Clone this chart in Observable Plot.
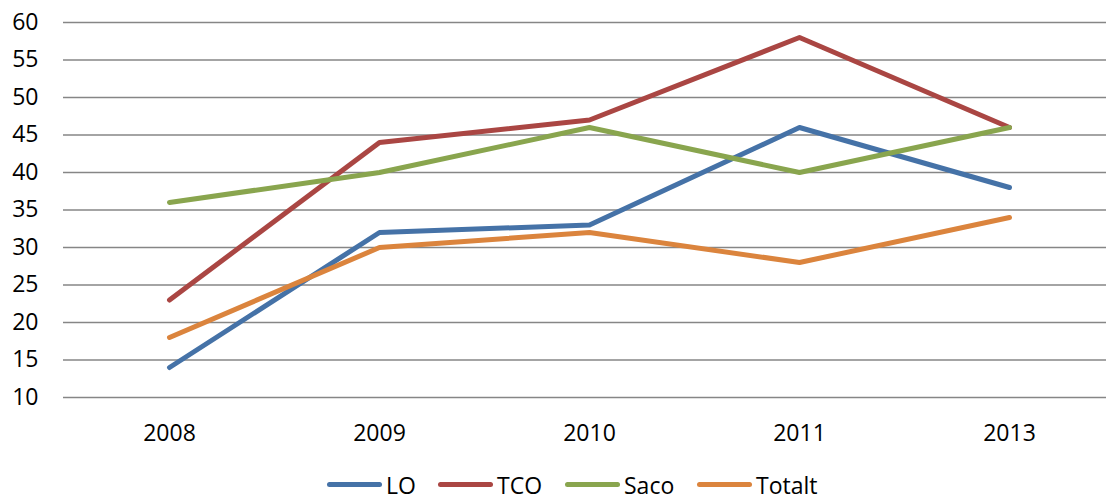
<!DOCTYPE html>
<html>
<head>
<meta charset="utf-8">
<script src="https://cdn.jsdelivr.net/npm/d3@7"></script>
<script src="https://cdn.jsdelivr.net/npm/@observablehq/plot@0.6"></script>
<style>
  html, body { margin: 0; padding: 0; background: #fff; }
  body { width: 1106px; height: 501px; overflow: hidden; font-family: "Open Sans", sans-serif; }
  #legend { position: relative; height: 41px; }
  .item { position: absolute; top: 8px; height: 33px; display: flex; align-items: center; font-size: 23px; color: #000; }
  .sw { width: 55px; height: 5px; border-radius: 3px; margin-right: 4px; }
</style>
</head>
<body>
<div id="chart"></div>
<div id="legend"></div>
<script>
const years = ["2008", "2009", "2010", "2011", "2013"];
const seriesNames = ["LO", "TCO", "Saco", "Totalt"];
const LO = [14, 32, 33, 46, 38];
const TCO = [23, 44, 47, 58, 46];
const Saco = [36, 40, 46, 40, 46];
const Totalt = [18, 30, 32, 28, 34];
const colors = ["#4572A7", "#AA4643", "#89A54E", "#DB843D"];
const yTicks = [10, 15, 20, 25, 30, 35, 40, 45, 50, 55, 60];

const seriesValues = [LO, TCO, Saco, Totalt];
const data = [];
seriesNames.forEach((name, i) => {
  years.forEach((yr, j) => data.push({series: name, year: yr, value: seriesValues[i][j]}));
});

const chart = Plot.plot({
  width: 1106,
  height: 460,
  marginTop: 22,
  marginBottom: 63,
  marginLeft: 63,
  marginRight: 0,
  style: {fontFamily: "Open Sans, sans-serif", fontSize: "23px", color: "#000", background: "#fff"},
  x: {type: "point", domain: years, range: [168, 1010], padding: 0, label: null},
  y: {domain: [10, 60], label: null},
  color: {domain: seriesNames, range: colors},
  marks: [
    Plot.ruleY(yTicks, {stroke: "#868686", strokeWidth: 1.6, strokeOpacity: 1}),
    Plot.axisY({ticks: yTicks, tickSize: 0, tickPadding: 25, label: null, fontSize: 23}),
    Plot.axisX({tickSize: 0, tickPadding: 27, label: null, fontSize: 23}),
    Plot.line(data, {x: "year", y: "value", z: "series", stroke: "series", strokeWidth: 5, strokeLinecap: "round", strokeLinejoin: "round"})
  ]
});
document.getElementById("chart").appendChild(chart);

const legend = document.getElementById("legend");
const lefts = [327, 438, 565, 697];
seriesNames.forEach((name, i) => {
  const item = document.createElement("div");
  item.className = "item";
  item.style.left = lefts[i] + "px";
  const sw = document.createElement("span");
  sw.className = "sw";
  sw.style.background = colors[i];
  item.appendChild(sw);
  item.appendChild(document.createTextNode(name));
  legend.appendChild(item);
});
</script>
</body>
</html>
